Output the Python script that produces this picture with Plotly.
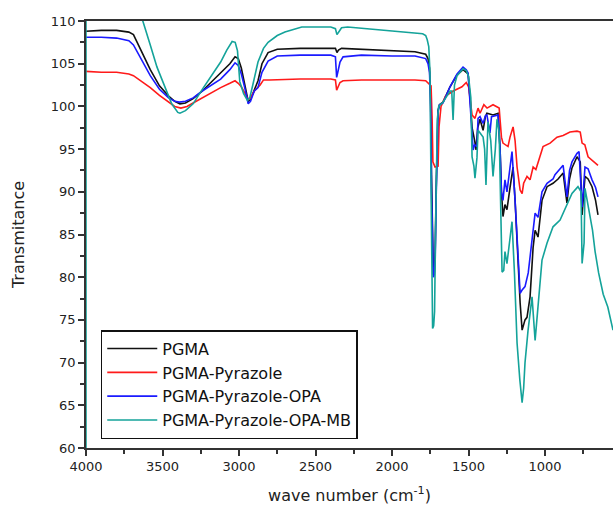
import plotly.graph_objects as go

# ---------------- data ----------------
names = ["PGMA", "PGMA-Pyrazole", "PGMA-Pyrazole-OPA", "PGMA-Pyrazole-OPA-MB"]
colors = ["#111111", "#ff1a1a", "#1a1aff", "#14a39a"]

wn_pgma = [4000, 3900, 3800, 3720, 3690, 3640, 3580, 3520, 3460, 3420, 3386, 3350, 3300, 3240, 3176,
           3120, 3060, 3026, 3005, 2985, 2960, 2940, 2925, 2900, 2876, 2850, 2810, 2750, 2600, 2400,
           2370, 2360, 2350, 2330, 2200, 2000, 1850, 1780, 1765, 1755, 1748, 1742, 1736, 1730, 1724,
           1718, 1712, 1706, 1700, 1690, 1667, 1621, 1575, 1536, 1503, 1490, 1477, 1460, 1451, 1440,
           1425, 1405, 1390, 1380, 1340, 1307, 1294, 1285, 1275, 1262, 1249, 1229, 1209, 1196, 1183,
           1163, 1150, 1131, 1118, 1098, 1078, 1065, 1046, 1020, 987, 948, 915, 882, 857, 840, 824,
           791, 770, 758, 739, 719, 693, 670, 654]
t_pgma = [108.8, 108.9, 108.9, 108.7, 108.4, 106.5, 104.3, 102.4, 101.2, 100.6, 100.3, 100.4, 100.9,
          101.8, 102.9, 103.9, 105.0, 105.8, 105.6, 104.5, 102.5, 100.6, 100.8, 102.0, 103.0, 105.0,
          106.3, 106.7, 106.8, 106.8, 106.8, 106.3, 106.6, 106.8, 106.7, 106.6, 106.4, 106.1, 105.6,
          104.5, 101.0, 92.0, 84.5, 80.3, 80.5, 83.0, 90.0, 97.0, 99.5, 100.2, 100.5, 102.3, 103.7,
          104.3, 103.8, 101.0, 97.5, 96.0, 94.9, 97.5, 98.5, 97.2, 98.8, 99.2, 99.0, 99.2, 95.0, 90.0,
          87.1, 88.5, 87.9, 90.5, 92.9, 89.0, 84.0, 77.0, 73.8, 75.0, 75.3, 77.7, 83.5, 85.5, 84.7,
          89.0, 90.6, 91.0, 91.5, 92.2, 88.7, 91.5, 92.8, 94.1, 93.5, 87.3, 91.8, 91.5, 90.6, 89.0, 87.3]

wn_pyr = [4000, 3900, 3800, 3720, 3690, 3640, 3580, 3520, 3460, 3420, 3380, 3340, 3300, 3240, 3176,
          3120, 3060, 3026, 3005, 2985, 2960, 2940, 2925, 2900, 2862, 2840, 2800, 2600, 2400, 2370,
          2362, 2352, 2340, 2320, 2200, 2000, 1850, 1780, 1760, 1745, 1738, 1733, 1719, 1699, 1693,
          1680, 1650, 1600, 1543, 1515, 1500, 1490, 1477, 1458, 1438, 1425, 1400, 1379, 1340, 1300,
          1294, 1285, 1275, 1242, 1229, 1209, 1196, 1183, 1163, 1150, 1140, 1118, 1098, 1078, 1060,
          1040, 1013, 967, 922, 882, 837, 791, 770, 758, 740, 719, 686, 654]
t_pyr = [104.1, 104.0, 104.0, 103.8, 103.6, 103.0, 102.2, 101.3, 100.5, 100.0, 99.8, 100.0, 100.4,
         101.0, 101.7, 102.2, 102.7, 103.0, 102.7, 102.3, 101.5, 100.8, 101.0, 101.8, 102.5, 103.1,
         103.1, 103.2, 103.2, 103.1, 101.9, 102.3, 102.8, 103.0, 103.1, 103.1, 103.1, 103.0, 102.7,
         102.4, 98.5, 93.5, 92.9, 93.0, 97.6, 100.0, 101.2, 101.8, 102.3, 102.8, 102.3, 100.5, 99.0,
         98.6, 99.8, 99.2, 100.2, 99.8, 100.2, 99.8, 98.0, 96.4, 95.7, 95.3, 96.4, 97.6, 96.0, 92.9,
         90.2, 89.8, 91.0, 91.8, 91.4, 92.9, 92.6, 93.7, 95.3, 95.7, 96.4, 96.6, 97.0, 97.1, 97.0,
         95.7, 95.5, 94.1, 93.6, 93.1]

wn_opa = [4000, 3900, 3800, 3720, 3690, 3640, 3580, 3520, 3460, 3420, 3390, 3350, 3300, 3240, 3176,
          3120, 3060, 3026, 3005, 2985, 2960, 2940, 2925, 2900, 2876, 2850, 2810, 2750, 2600, 2400,
          2370, 2362, 2352, 2340, 2320, 2200, 2000, 1850, 1780, 1765, 1755, 1748, 1742, 1736, 1730,
          1724, 1718, 1712, 1706, 1700, 1690, 1667, 1621, 1575, 1536, 1515, 1503, 1490, 1477, 1470,
          1460, 1445, 1438, 1425, 1405, 1390, 1380, 1360, 1350, 1307, 1294, 1285, 1275, 1262, 1249,
          1229, 1216, 1196, 1183, 1163, 1150, 1131, 1110, 1085, 1065, 1046, 1020, 987, 948, 935, 882,
          857, 840, 824, 791, 778, 758, 739, 719, 693, 670, 654]
t_opa = [108.1, 108.1, 108.0, 107.7, 107.2, 105.5, 103.6, 102.0, 101.0, 100.6, 100.5, 100.6, 101.0,
         101.8, 102.5, 103.2, 104.3, 105.1, 104.8, 103.8, 102.0, 100.3, 100.6, 101.8, 102.2, 104.0,
         105.3, 105.9, 106.0, 106.0, 105.8, 103.4, 104.2, 105.2, 105.8, 106.0, 105.9, 105.9, 105.6,
         105.0, 104.0, 100.0, 90.0, 82.0, 80.0, 80.3, 82.0, 89.0, 96.5, 99.3, 100.2, 100.4, 102.3,
         103.8, 104.6, 104.3, 103.9, 100.5, 96.5, 94.9, 95.5, 95.3, 98.6, 98.8, 98.0, 98.9, 99.0,
         96.9, 98.8, 99.0, 95.0, 90.0, 89.0, 91.4, 90.0, 92.5, 94.7, 89.0, 84.0, 78.1, 78.5, 78.9,
         80.5, 84.4, 87.5, 87.0, 90.0, 91.0, 91.5, 92.0, 93.1, 89.4, 92.5, 93.5, 94.5, 94.7, 88.2,
         92.9, 92.7, 91.4, 90.5, 89.4]

wn_mb = [4000, 4000, 3800, 3700, 3660, 3627, 3580, 3536, 3480, 3440, 3400, 3386, 3350, 3300, 3240,
         3176, 3120, 3080, 3045, 3025, 3010, 2995, 2970, 2945, 2930, 2910, 2876, 2840, 2810, 2750,
         2700, 2590, 2400, 2370, 2360, 2345, 2330, 2290, 2100, 1900, 1800, 1780, 1770, 1760, 1752,
         1746, 1740, 1735, 1728, 1722, 1716, 1710, 1704, 1695, 1667, 1621, 1610, 1601, 1592, 1575,
         1536, 1515, 1500, 1485, 1477, 1465, 1458, 1445, 1438, 1405, 1395, 1386, 1373, 1355, 1340,
         1325, 1314, 1300, 1290, 1281, 1270, 1262, 1249, 1235, 1216, 1200, 1183, 1165, 1150, 1140,
         1131, 1111, 1085, 1065, 1046, 1020, 987, 948, 902, 870, 824, 785, 765, 758, 745, 739, 720,
         706, 690, 673, 650, 620, 590, 556]
t_mb = [55.0, 113.0, 113.0, 112.5, 111.8, 110.0, 107.2, 104.6, 102.0, 100.3, 99.3, 99.2, 99.5, 100.3,
        102.0, 103.7, 105.2, 106.6, 107.6, 107.5, 106.5, 102.9, 101.5, 100.7, 101.0, 102.5, 105.2,
        106.8, 107.5, 108.3, 108.7, 109.3, 109.3, 109.1, 108.4, 108.8, 109.2, 109.3, 109.0, 108.7,
        108.5, 108.3, 107.8, 107.0, 104.0, 92.0, 77.0, 74.0, 74.3, 76.0, 85.0, 94.0, 98.5, 100.0,
        100.5, 101.8, 101.8, 98.4, 102.5, 103.6, 104.4, 104.2, 103.5, 101.0, 94.1, 93.0, 91.6, 94.0,
        97.2, 96.4, 95.0, 90.8, 98.2, 96.0, 91.8, 95.0, 98.5, 97.0, 88.0, 80.6, 80.8, 83.0, 81.6,
        84.0, 86.5, 80.5, 72.3, 68.0, 65.3, 67.0, 70.0, 73.8, 77.7, 72.6, 77.0, 82.0, 84.0, 85.9,
        86.7, 87.9, 89.8, 90.6, 90.0, 81.6, 84.0, 90.4, 88.5, 87.5, 85.5, 83.0, 80.5, 78.0, 76.5, 73.8]

x_ticks = [4000, 3500, 3000, 2500, 2000, 1500, 1000]
y_ticks = [60, 65, 70, 75, 80, 85, 90, 95, 100, 105, 110]

series = [(wn_pgma, t_pgma), (wn_pyr, t_pyr), (wn_opa, t_opa), (wn_mb, t_mb)]

FONT = "DejaVu Sans, Liberation Sans, Arial, sans-serif"

fig = go.Figure()
for i, ((xs, ys), nm, col) in enumerate(zip(series, names, colors)):
    fig.add_trace(go.Scatter(x=xs, y=ys, mode="lines", name=nm,
                             line=dict(color=col, width=1.6)))

fig.update_layout(
    width=613, height=513,
    margin=dict(l=86, r=0, t=21, b=65),
    paper_bgcolor="white", plot_bgcolor="white",
    font=dict(family=FONT, color="#222222", size=13),
    showlegend=True,
    legend=dict(x=0.028, y=0.276, xanchor="left", yanchor="top",
                bgcolor="white", bordercolor="#111111", borderwidth=1.5,
                font=dict(size=16, family=FONT, color="#111111"),
                itemwidth=50, traceorder="normal"),
)
fig.update_xaxes(
    range=[4000, 556], tickmode="array", tickvals=x_ticks,
    showline=True, linecolor="#333333", linewidth=1.5, mirror=True,
    ticks="outside", ticklen=6, tickwidth=1.5, tickcolor="#333333",
    minor=dict(dtick=250, tick0=0, ticks="outside", ticklen=4, tickwidth=1.5, tickcolor="#333333"),
    showgrid=False, zeroline=False,
    tickfont=dict(size=13, family=FONT),
    title=dict(text="wave number (cm<sup>-1</sup>)", font=dict(size=16, family=FONT), standoff=16),
)
fig.update_yaxes(
    range=[60, 110], tickmode="array", tickvals=y_ticks,
    showline=True, linecolor="#333333", linewidth=1.5,
    ticks="outside", ticklen=6, tickwidth=1.5, tickcolor="#333333",
    minor=dict(dtick=2.5, tick0=0, ticks="outside", ticklen=4, tickwidth=1.5, tickcolor="#333333"),
    showgrid=False, zeroline=False,
    tickfont=dict(size=13, family=FONT),
    title=dict(text="Transmitance", font=dict(size=16, family=FONT), standoff=22),
)

fig.write_html("out.html")
